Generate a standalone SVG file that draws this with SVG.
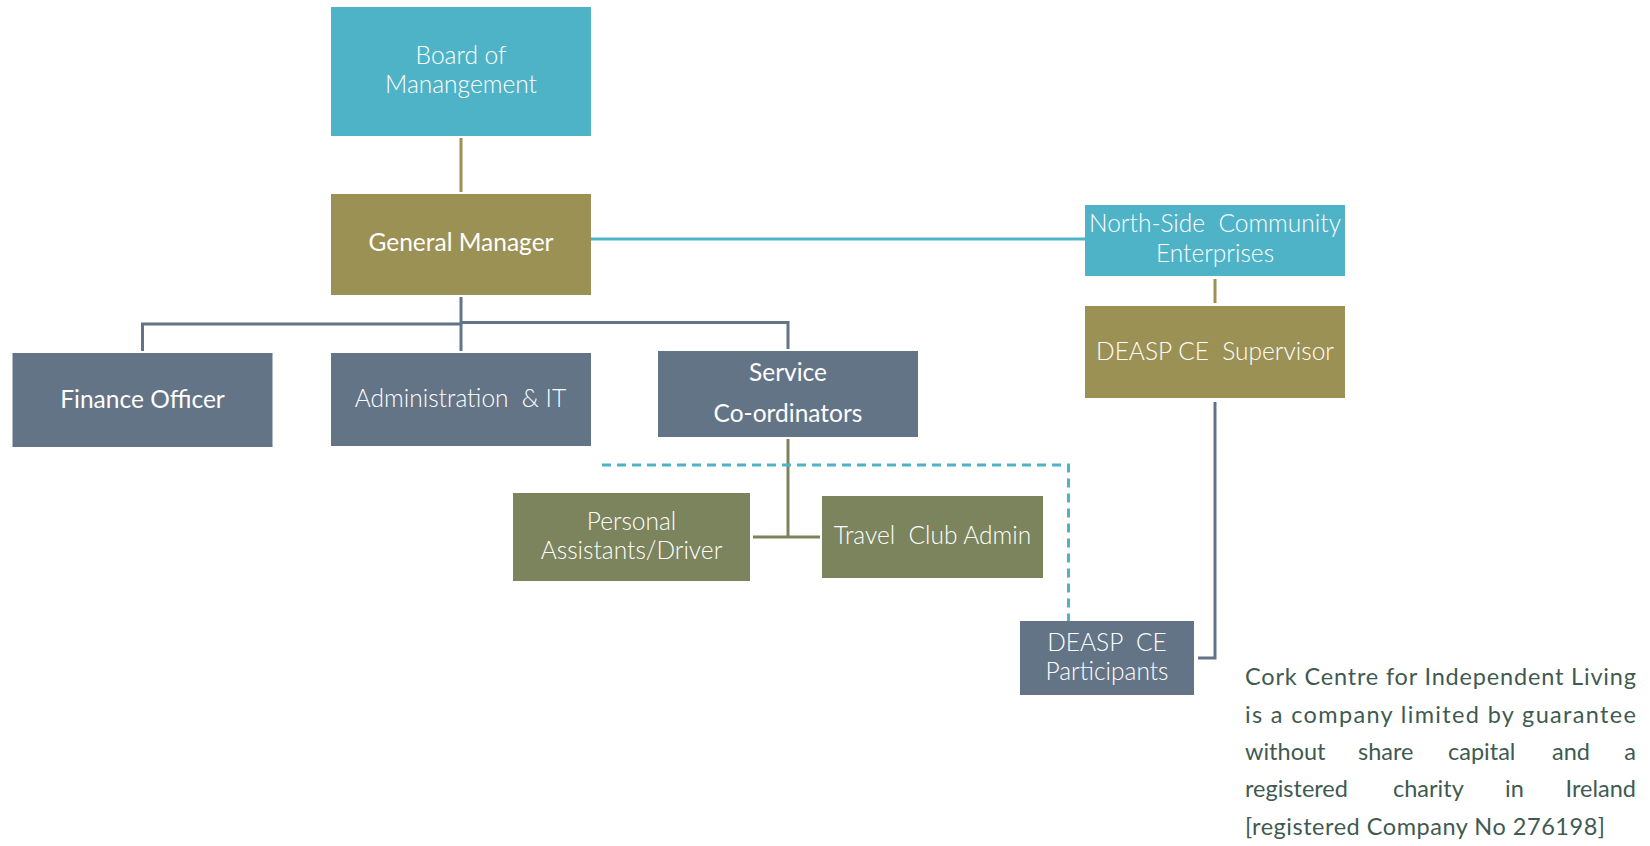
<svg xmlns="http://www.w3.org/2000/svg" width="1650" height="846" viewBox="0 0 1650 846">
<style>
  .cyan{fill:#4fb3c8}
  .olive{fill:#9c9155}
  .slate{fill:#647487}
  .green{fill:#7b845c}
  .lbl{font-family:Lato,"Open Sans","Liberation Sans",sans-serif;font-size:24.5px;fill:#ffffff;text-anchor:middle;font-weight:300}
  .lbl.reg{font-weight:400}
  .para{font-family:Lato,"Open Sans","Liberation Sans",sans-serif;font-size:23.5px;fill:#3f5a50}
  .end{text-anchor:end}
  .ln{fill:none;stroke-width:3}
</style>
<rect width="1650" height="846" fill="#ffffff"/>
<g id="connectors">
  <line class="ln" x1="461" y1="138" x2="461" y2="192" stroke="#9c9155"/>
  <line class="ln" x1="591" y1="239" x2="1085" y2="239" stroke="#4fb3c8" stroke-width="2.5"/>
  <line class="ln" x1="461" y1="297" x2="461" y2="351" stroke="#647487"/>
  <polyline class="ln" points="142.5,351 142.5,324 461,324" stroke="#647487"/>
  <polyline class="ln" points="461,322.5 788,322.5 788,349" stroke="#647487"/>
  <line class="ln" x1="788" y1="439" x2="788" y2="538" stroke="#7b845c"/>
  <line class="ln" x1="753" y1="537" x2="820" y2="537" stroke="#7b845c"/>
  <line class="ln" x1="1215" y1="279" x2="1215" y2="303" stroke="#9c9155"/>
  <polyline class="ln" points="1215,402 1215,658 1198,658" stroke="#647487"/>
  <polyline class="ln" points="602,465 1068.5,465 1068.5,635" stroke="#4fb3c8" stroke-width="2" stroke-dasharray="9 6"/>
</g>
<g id="board">
  <rect class="cyan" x="331" y="7" width="260" height="129"/>
  <text class="lbl" x="461" y="64">Board of</text>
  <text class="lbl" x="461" y="93">Manangement</text>
</g>
<g id="general-manager">
  <rect class="olive" x="331" y="194" width="260" height="101"/>
  <text class="lbl reg" x="461" y="251">General Manager</text>
</g>
<g id="finance-officer">
  <rect class="slate" x="12.5" y="353" width="260" height="94"/>
  <text class="lbl reg" x="142.5" y="408">Finance Officer</text>
</g>
<g id="administration">
  <rect class="slate" x="331" y="353" width="260" height="93"/>
  <text class="lbl" x="460.5" y="407">Administration&#160; &amp; IT</text>
</g>
<g id="service-coordinators">
  <rect class="slate" x="658" y="351" width="260" height="86"/>
  <text class="lbl reg" x="788" y="381">Service</text>
  <text class="lbl reg" x="788" y="422">Co-ordinators</text>
</g>
<g id="personal-assistants">
  <rect class="green" x="513" y="493" width="237" height="88"/>
  <text class="lbl" x="631.5" y="530">Personal</text>
  <text class="lbl" x="631.5" y="559">Assistants/Driver</text>
</g>
<g id="travel-club">
  <rect class="green" x="822" y="496" width="221" height="82"/>
  <text class="lbl" x="932.5" y="544">Travel&#160; Club Admin</text>
</g>
<g id="north-side">
  <rect class="cyan" x="1085" y="205" width="260" height="71"/>
  <text class="lbl" x="1215" y="232">North-Side&#160; Community</text>
  <text class="lbl" x="1215" y="262">Enterprises</text>
</g>
<g id="ce-supervisor">
  <rect class="olive" x="1085" y="306" width="260" height="92"/>
  <text class="lbl" x="1215" y="360">DEASP CE&#160; Supervisor</text>
</g>
<g id="ce-participants">
  <rect class="slate" x="1020" y="621" width="174" height="74"/>
  <text class="lbl" x="1107" y="651">DEASP&#160; CE</text>
  <text class="lbl" x="1107" y="680">Participants</text>
</g>
<g id="note">
  <text class="para" x="1245" y="685" textLength="391" lengthAdjust="spacing">Cork Centre for Independent Living</text>
  <text class="para" x="1245" y="723" textLength="391" lengthAdjust="spacing">is a company limited by guarantee</text>
  <text class="para" y="760"><tspan x="1245">without</tspan><tspan x="1358">share</tspan><tspan x="1448">capital</tspan><tspan x="1552">and</tspan></text>
  <text class="para end" x="1636" y="760">a</text>
  <text class="para" y="797"><tspan x="1245">registered</tspan><tspan x="1393">charity</tspan><tspan x="1505">in</tspan></text>
  <text class="para end" x="1636" y="797">Ireland</text>
  <text class="para" x="1245" y="835" textLength="360" lengthAdjust="spacing">[registered Company No 276198]</text>
</g>
</svg>
